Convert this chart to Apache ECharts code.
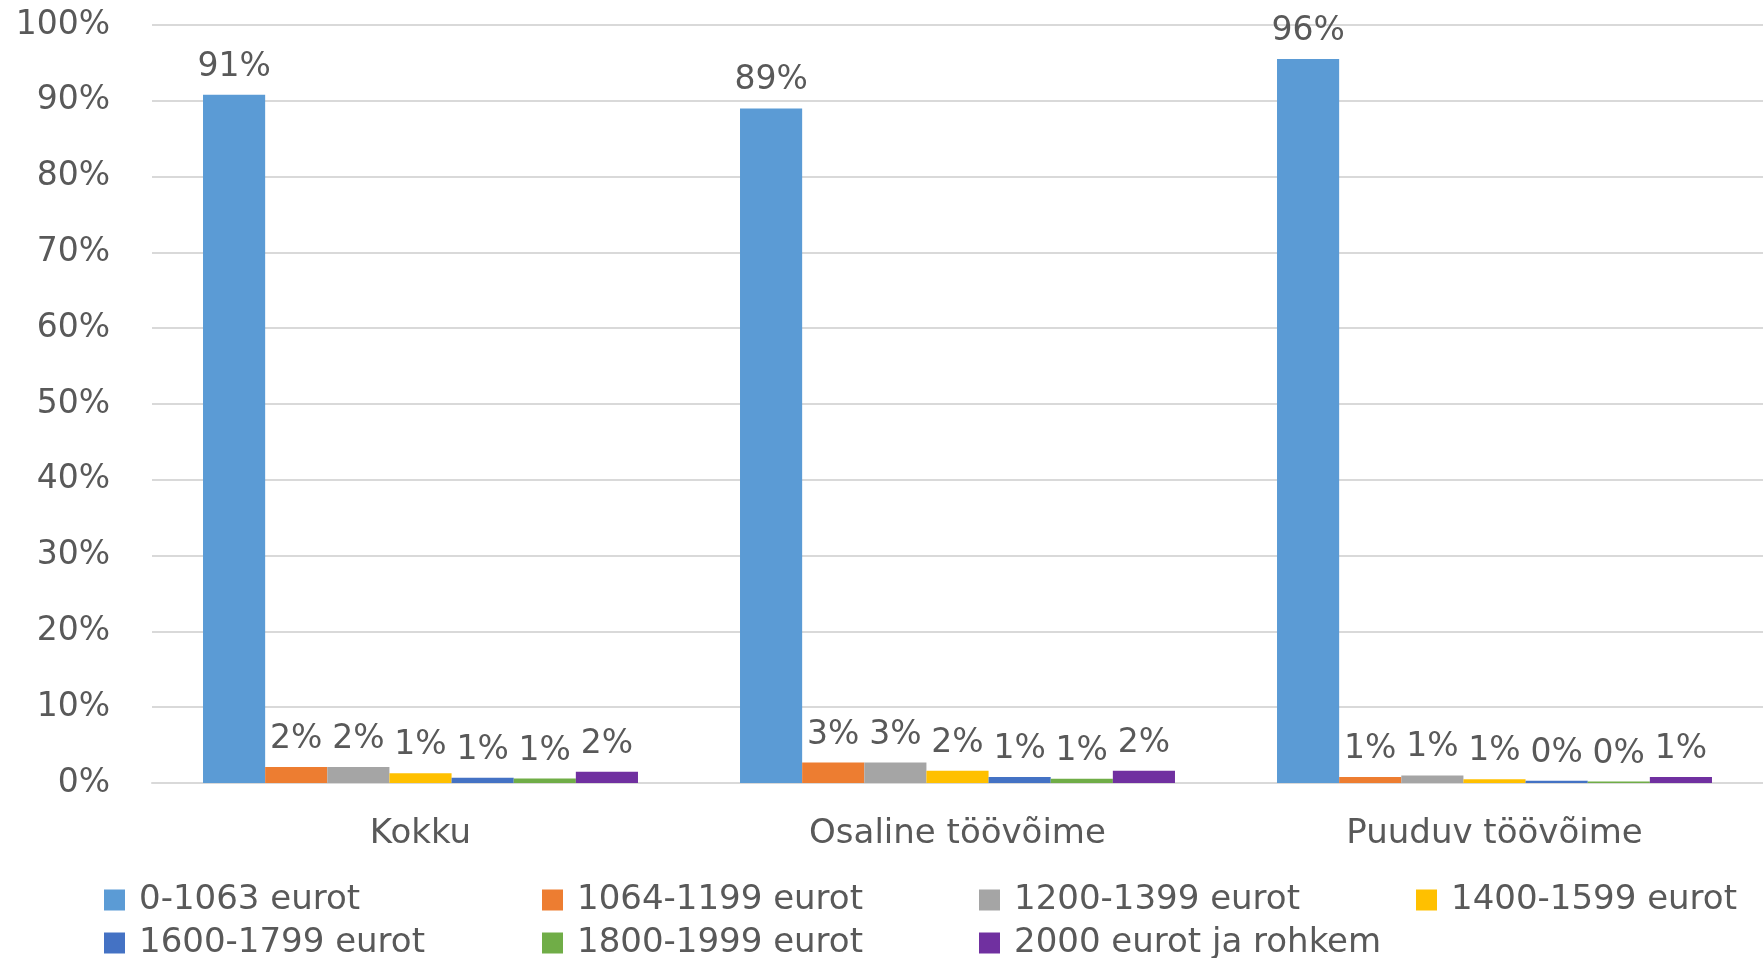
<!DOCTYPE html>
<html>
<head>
<meta charset="utf-8">
<script src="https://cdn.jsdelivr.net/npm/echarts@6/dist/echarts.min.js"></script>
<style>
  html, body { margin: 0; padding: 0; background: #fff; }
  #myChart { width: 1763px; height: 958px; }
</style>
</head>
<body>
<div id="myChart"></div>
<script>
// kategooriad
var categories = ['Kokku', 'Osaline töövõime', 'Puuduv töövõime'];
var seriesNames = ['0-1063 eurot', '1064-1199 eurot', '1200-1399 eurot', '1400-1599 eurot',
  '1600-1799 eurot', '1800-1999 eurot', '2000 eurot ja rohkem'];
var colors = ['#5b9bd5', '#ed7d31', '#a5a5a5', '#ffc000', '#4472c4', '#70ad47', '#7030a0'];

// väärtused protsentides, iga sissetulekugrupp eraldi
var s0_1063 = [90.8, 89.0, 95.5];
var s1064_1199 = [2.1, 2.7, 0.8];
var s1200_1399 = [2.1, 2.7, 1.0];
var s1400_1599 = [1.3, 1.6, 0.5];
var s1600_1799 = [0.7, 0.8, 0.3];
var s1800_1999 = [0.6, 0.55, 0.2];
var s2000 = [1.5, 1.6, 0.8];
var seriesData = [s0_1063, s1064_1199, s1200_1399, s1400_1599, s1600_1799, s1800_1999, s2000];

var yTicks = { min: 0, max: 100, interval: 10 };

var fontFamily = 'DejaVu Sans';
var textColor = '#595959';

var chart = echarts.init(document.getElementById('myChart'));

var series = [];
for (var i = 0; i < seriesNames.length; i++) {
  series.push({
    name: seriesNames[i],
    type: 'bar',
    barGap: 0,
    barCategoryGap: '19%',
    itemStyle: { color: colors[i] },
    label: {
      show: true,
      position: 'top',
      distance: 11,
      color: textColor,
      fontFamily: fontFamily,
      fontSize: 33,
      formatter: function (p) { return Math.round(p.value) + '%'; }
    },
    data: seriesData[i]
  });
}

// legend: 4 veergu, 2 rida (iga kirje oma kohal)
var legendCols = [99, 537, 974, 1411];
var legendRows = [878, 921];
var legends = [];
for (var k = 0; k < seriesNames.length; k++) {
  legends.push({
    left: legendCols[k % 4],
    top: legendRows[Math.floor(k / 4)],
    itemWidth: 21,
    itemHeight: 21,
    icon: 'rect',
    textStyle: {
      color: textColor,
      fontFamily: fontFamily,
      fontSize: 34,
      padding: [0, 0, 0, 9]
    },
    data: [seriesNames[k]]
  });
}

chart.setOption({
  animation: false,
  grid: { left: 152, right: 0, top: 25, bottom: 175 },
  legend: legends,
  xAxis: {
    type: 'category',
    data: categories,
    axisLine: { lineStyle: { color: '#d9d9d9', width: 2 } },
    axisTick: { show: false },
    axisLabel: { color: textColor, fontFamily: fontFamily, fontSize: 34, margin: 34 }
  },
  yAxis: {
    type: 'value',
    min: yTicks.min,
    max: yTicks.max,
    interval: yTicks.interval,
    axisLine: { show: false },
    axisTick: { show: false },
    splitLine: { lineStyle: { color: '#d9d9d9', width: 2 } },
    axisLabel: { color: textColor, fontFamily: fontFamily, fontSize: 33, margin: 42, formatter: '{value}%' }
  },
  series: series
});
</script>
</body>
</html>
